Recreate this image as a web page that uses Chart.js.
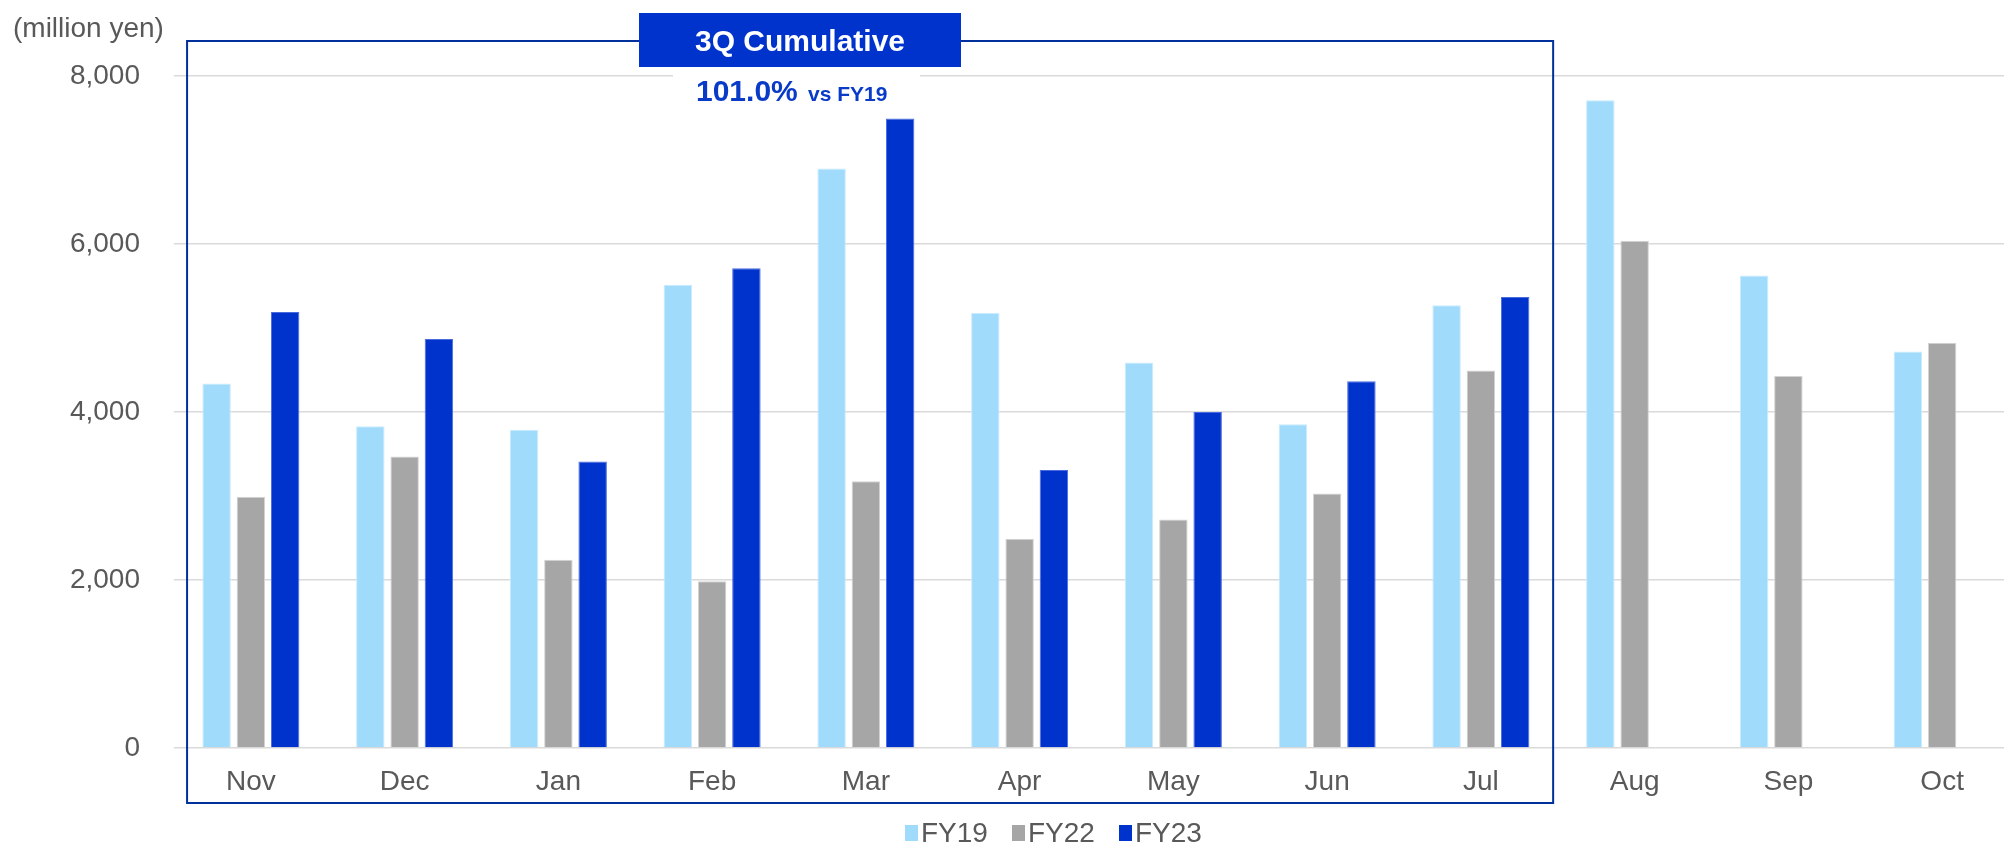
<!DOCTYPE html>
<html>
<head>
<meta charset="utf-8">
<script src="https://cdn.jsdelivr.net/npm/chart.js@4/dist/chart.umd.min.js"></script>
<style>
    html, body { margin: 0; padding: 0; background: #fff; overflow: hidden; }
    #wrap { position: absolute; left: 0; top: 0; width: 2030px; height: 845px; }
    #legend {
        position: absolute; left: 905px; top: 817px;
        display: flex; align-items: center;
        font-family: "Liberation Sans", Arial, sans-serif; font-size: 28px; color: #595959;
    }
    #legend .item { display: flex; align-items: center; margin-right: 24px; }
    #legend .sw { width: 13px; height: 16px; margin-right: 3px; }
</style>
</head>
<body>
<div id="wrap">
    <canvas id="salesChart" width="2030" height="845"></canvas>
    <div id="legend"></div>
</div>
<script>
// monthly values, million yen
const months = ['Nov', 'Dec', 'Jan', 'Feb', 'Mar', 'Apr', 'May', 'Jun', 'Jul', 'Aug', 'Sep', 'Oct'];
const fy19 = [4340, 3830, 3790, 5515, 6900, 5180, 4590, 3855, 5270, 7710, 5625, 4720];
const fy22 = [2990, 3470, 2240, 1985, 3175, 2490, 2720, 3030, 4495, 6040, 4430, 4825];
const fy23 = [5190, 4870, 3410, 5710, 7495, 3310, 4000, 4365, 5370, null, null, null];
const yTicks = [0, 2000, 4000, 6000, 8000];

const FONT = '"Liberation Sans", Arial, sans-serif';
const TEXT_GREY = '#595959';

// frame + "3Q Cumulative" callout
const calloutPlugin = {
    id: 'callout',
    afterDatasetsDraw(chart) {
        const ctx = chart.ctx;
        const x = chart.scales.x;
        const step = x.getPixelForValue(1) - x.getPixelForValue(0);
        const left = x.getPixelForValue(0) - 0.415 * step;
        const right = x.getPixelForValue(8) + 0.47 * step;

        ctx.save();
        // frame round Nov-Jul
        ctx.strokeStyle = '#00309C';
        ctx.lineWidth = 2;
        ctx.strokeRect(left, 41, right - left, 803 - 41);

        // white patch behind the percentage
        ctx.fillStyle = '#ffffff';
        ctx.fillRect(673, 67, 247, 40);

        // title box
        ctx.fillStyle = '#0033CC';
        ctx.fillRect(639, 13, 322, 54);
        ctx.fillStyle = '#ffffff';
        ctx.font = 'bold 30px ' + FONT;
        ctx.textAlign = 'center';
        ctx.textBaseline = 'alphabetic';
        ctx.fillText('3Q Cumulative', 800, 51);

        ctx.fillStyle = '#0A3BC8';
        ctx.textAlign = 'left';
        ctx.font = 'bold 30px ' + FONT;
        ctx.fillText('101.0%', 696, 101);
        ctx.font = 'bold 21px ' + FONT;
        ctx.fillText('vs FY19', 808, 101);

        // unit label
        ctx.fillStyle = TEXT_GREY;
        ctx.font = '28px ' + FONT;
        ctx.fillText('(million yen)', 13, 37);
        ctx.restore();
    }
};

const ctx = document.getElementById('salesChart').getContext('2d');
const salesChart = new Chart(ctx, {
    type: 'bar',
    data: {
        labels: months,
        datasets: [
            { label: 'FY19', data: fy19, backgroundColor: '#A1DBFC', borderColor: '#C9ECFE' },
            { label: 'FY22', data: fy22, backgroundColor: '#A6A6A6', borderColor: '#D3D3D3' },
            { label: 'FY23', data: fy23, backgroundColor: '#0033CC', borderColor: '#4A6BE0' }
        ].map(ds => Object.assign(ds, {
            borderWidth: 1,
            categoryPercentage: 0.669,
            barPercentage: 0.83
        }))
    },
    options: {
        responsive: false,
        animation: false,
        devicePixelRatio: 1,
        layout: { padding: { left: 0, right: 11, top: 76, bottom: 0 } },
        plugins: {
            legend: { display: false },
            tooltip: { enabled: false }
        },
        scales: {
            x: {
                grid: { display: false },
                border: { display: false },
                ticks: {
                    color: TEXT_GREY,
                    font: { family: FONT, size: 28 },
                    padding: 9,
                    maxRotation: 0,
                    autoSkip: false
                },
                afterFit: (s) => { s.height = 97; }
            },
            y: {
                min: 0,
                max: 8000,
                afterBuildTicks: (s) => { s.ticks = yTicks.map(v => ({ value: v })); },
                grid: { color: '#DADADA', lineWidth: 1.5, drawTicks: false },
                border: { display: false },
                ticks: {
                    color: TEXT_GREY,
                    font: { family: FONT, size: 28 },
                    padding: 34,
                    callback: (v) => v.toLocaleString('en-US')
                },
                afterFit: (s) => { s.width = 174; }
            }
        }
    },
    plugins: [calloutPlugin]
});

// legend built from the datasets
const legendEl = document.getElementById('legend');
salesChart.data.datasets.forEach(ds => {
    const item = document.createElement('div');
    item.className = 'item';
    item.innerHTML = `<span class="sw" style="background:${ds.backgroundColor}"></span><span>${ds.label}</span>`;
    legendEl.appendChild(item);
});
</script>
</body>
</html>
